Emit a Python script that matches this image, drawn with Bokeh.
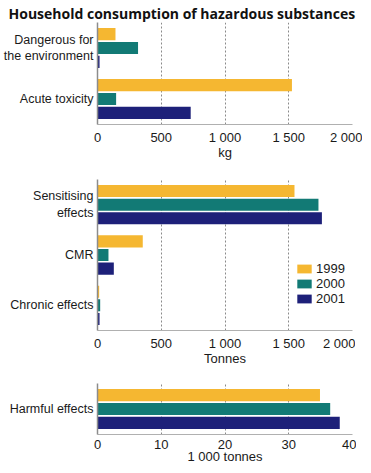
from bokeh.plotting import figure
from bokeh.models import FactorRange, Range1d, FixedTicker, Legend, LegendItem, ColumnDataSource, Title
from bokeh.transform import dodge
from bokeh.layouts import column
from bokeh.embed import file_html
from bokeh.resources import INLINE

years = ["1999", "2000", "2001"]
colors = ["#f5b731", "#127a75", "#1d2079"]

kg_cats = ["Dangerous for\nthe environment", "Acute toxicity"]
kg_1999 = [141, 1525]
kg_2000 = [318, 146]
kg_2001 = [16, 731]
kg_ticks = [0, 500, 1000, 1500, 2000]

t_cats = ["Sensitising\neffects", "CMR", "Chronic effects"]
t_1999 = [1545, 355, 13]
t_2000 = [1733, 86, 21]
t_2001 = [1760, 128, 16]
t_ticks = [0, 500, 1000, 1500, 2000]

kt_cats = ["Harmful effects"]
kt_1999 = [34.9]
kt_2000 = [36.5]
kt_2001 = [38.0]
kt_ticks = [0, 10, 20, 30, 40]

FONT = "Liberation Sans"
TXT = "#1a1a1a"


def fmt(v):
    return f"{v:,}".replace(",", " ")


def panel(cats, series, ticks, xlabel, fh, top, legend=None, title=None):
    p = figure(frame_width=255, frame_height=fh, y_range=FactorRange(*cats[::-1]),
               x_range=Range1d(ticks[0], ticks[-1]),
               output_backend="svg", toolbar_location=None,
               min_border_left=90, min_border_right=10,
               min_border_top=top, min_border_bottom=0)
    p.outline_line_color = None
    src = ColumnDataSource(dict(cat=cats, v1999=series[0], v2000=series[1], v2001=series[2]))
    offs = [0.27, 0.0, -0.27]
    rs = []
    for yr, col, off in zip(years, colors, offs):
        r = p.hbar(y=dodge("cat", off, range=p.y_range), right="v" + yr, left=0,
                   height=0.24, source=src, color=col, line_color=None)
        rs.append(r)
    p.xaxis.ticker = FixedTicker(ticks=ticks)
    p.xaxis.major_label_overrides = {t: fmt(t) for t in ticks}
    p.xaxis.axis_line_color = "#b0b0b0"
    p.xaxis.major_tick_line_color = None
    p.xaxis.minor_tick_line_color = None
    p.xaxis.major_tick_out = 0
    p.xaxis.major_tick_in = 0
    p.xaxis.major_label_standoff = 5
    p.xaxis.major_label_text_font = FONT
    p.xaxis.major_label_text_font_size = "13px"
    p.xaxis.major_label_text_color = TXT
    p.xaxis.axis_label = xlabel
    p.xaxis.axis_label_text_font = FONT
    p.xaxis.axis_label_text_font_size = "13px"
    p.xaxis.axis_label_text_font_style = "normal"
    p.xaxis.axis_label_text_color = TXT
    p.xaxis.axis_label_standoff = -3

    p.yaxis.axis_line_color = "#8c8c8c"
    p.yaxis.axis_line_width = 1.5
    p.yaxis.major_tick_line_color = None
    p.yaxis.minor_tick_line_color = None
    p.yaxis.major_tick_out = 0
    p.yaxis.major_tick_in = 0
    p.yaxis.major_label_standoff = 4
    p.yaxis.major_label_text_font = FONT
    p.yaxis.major_label_text_font_size = "12.5px"
    p.yaxis.major_label_text_color = TXT

    p.ygrid.grid_line_color = None
    p.xgrid.ticker = FixedTicker(ticks=ticks[1:])
    p.xgrid.grid_line_color = "#8a8a8a"
    p.xgrid.grid_line_dash = "2 2"
    p.xgrid.grid_line_width = 1

    if legend is not None:
        lg = Legend(items=[LegendItem(label=y, renderers=[r]) for y, r in zip(years, rs)],
                    location=legend, orientation="vertical")
        lg.background_fill_alpha = 0
        lg.border_line_color = None
        lg.padding = 0
        lg.margin = 0
        lg.spacing = 0
        lg.glyph_width = 18
        lg.glyph_height = 11
        lg.label_standoff = 3
        lg.label_text_font = FONT
        lg.label_text_font_size = "13px"
        lg.label_text_color = TXT
        lg.label_height = 11
        p.add_layout(lg, "center")

    if title is not None:
        t = Title(text=title, align="left", offset=-89, standoff=0,
                  text_font="Open Sans", text_font_size="14px", text_font_style="bold",
                  text_color="#111111")
        p.add_layout(t, "above")
    return p


p1 = panel(kg_cats, [kg_1999, kg_2000, kg_2001], kg_ticks, "kg", 102, 22,
           title="Household consumption of hazardous substances")
p2 = panel(t_cats, [t_1999, t_2000, t_2001], t_ticks, "Tonnes", 151, 17, legend=(198, 24))
p3 = panel(kt_cats, [kt_1999, kt_2000, kt_2001], kt_ticks, "1 000 tonnes", 51, 15)

layout = column(p1, p2, p3, spacing=0)
open("out.html", "w").write(file_html(layout, INLINE))
